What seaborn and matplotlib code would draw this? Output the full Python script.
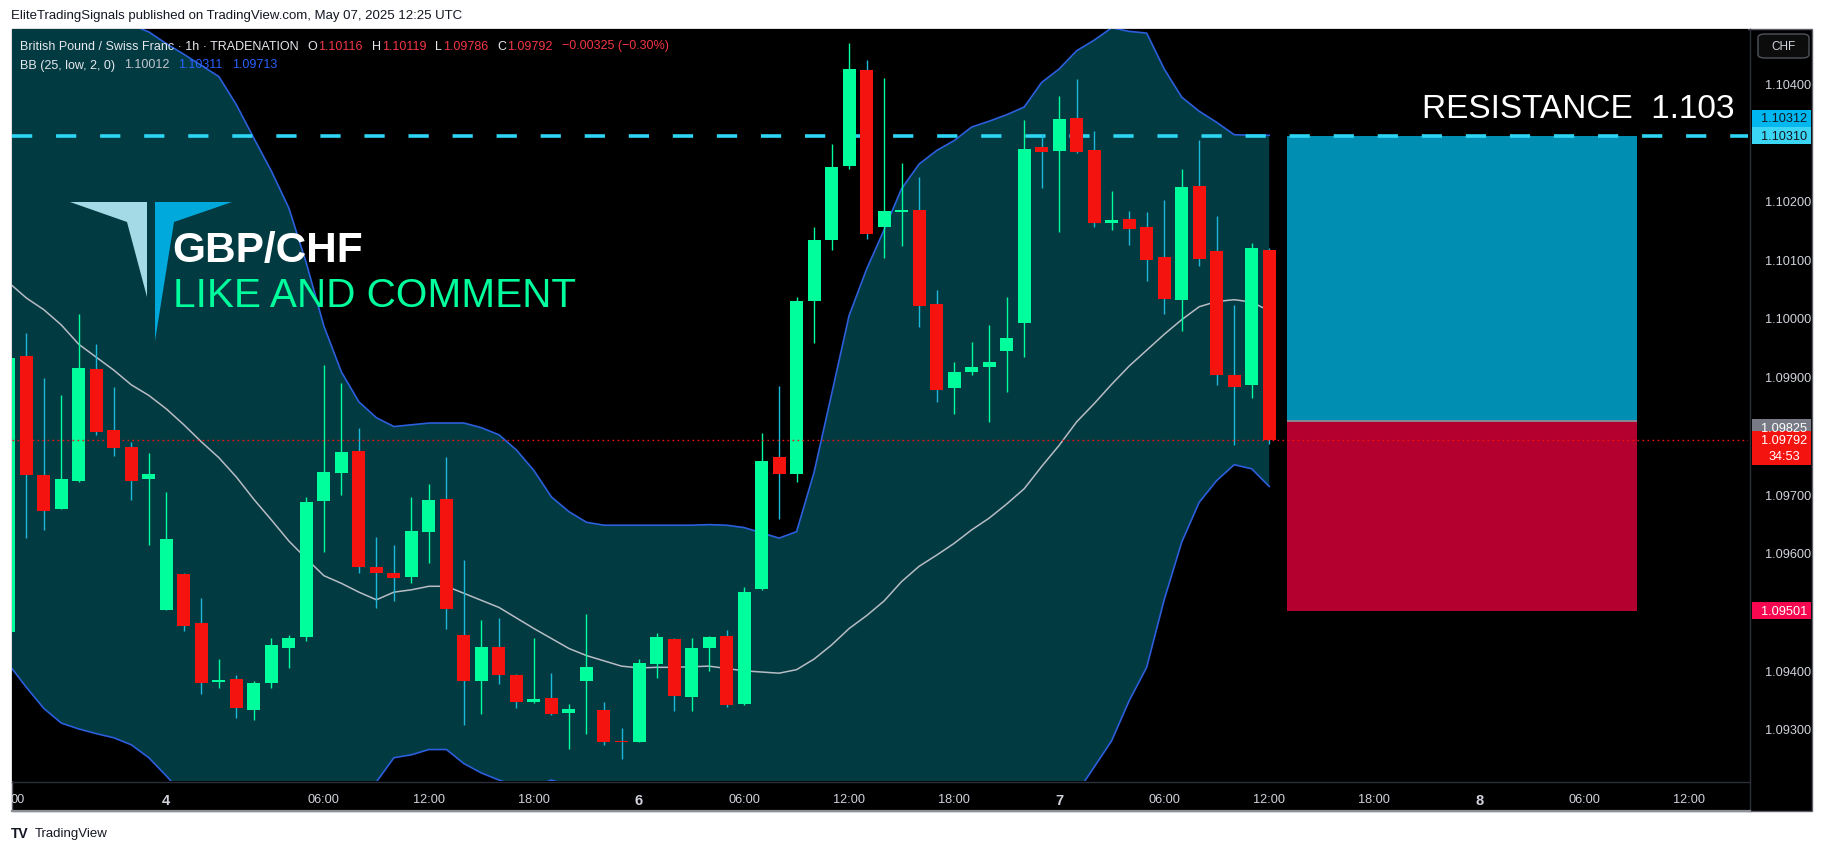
import numpy as np
import pandas as pd
import matplotlib
matplotlib.use("Agg")
import matplotlib.pyplot as plt
import seaborn as sns
from matplotlib.patches import Rectangle, Polygon, FancyBboxPatch
from matplotlib.lines import Line2D

# ---------------- data ----------------
bar_idx = list(range(-36, 37))   # hourly bars, 0 = May 6 00:00
opens = [1.09465, 1.09935, 1.09733, 1.09675, 1.09723, 1.09913, 1.09809, 1.09780, 1.09725,
         1.09503, 1.09564, 1.09481, 1.09380, 1.09385, 1.09333, 1.09379, 1.09438, 1.09456,
         1.09689, 1.09736, 1.09774, 1.09576, 1.09566, 1.09559, 1.09635, 1.09692, 1.09460,
         1.09382, 1.09440, 1.09392, 1.09346, 1.09353, 1.09328, 1.09382, 1.09332, 1.09280,
         1.09277, 1.09410, 1.09453, 1.09355, 1.09438, 1.09458, 1.09343, 1.09539, 1.09763,
         1.09735, 1.10028, 1.10132, 1.10258, 1.10422, 1.10154, 1.10181, 1.10184, 1.10024,
         1.09881, 1.09908, 1.09917, 1.09944, 1.09992, 1.10291, 1.10285, 1.10341, 1.10286,
         1.10161, 1.10169, 1.10155, 1.10104, 1.10031, 1.10225, 1.10114, 1.09903, 1.09885,
         1.10116]
highs = [1.09940, 1.09974, 1.09898, 1.09869, 1.10007, 1.09956, 1.09882, 1.09789, 1.09770,
         1.09703, 1.09566, 1.09523, 1.09419, 1.09392, 1.09381, 1.09455, 1.09460, 1.09695,
         1.09919, 1.09890, 1.09812, 1.09627, 1.09613, 1.09695, 1.09717, 1.09763, 1.09588,
         1.09486, 1.09489, 1.09394, 1.09455, 1.09395, 1.09343, 1.09496, 1.09346, 1.09301,
         1.09419, 1.09463, 1.09455, 1.09455, 1.09458, 1.09469, 1.09542, 1.09804, 1.09884,
         1.10036, 1.10155, 1.10296, 1.10468, 1.10439, 1.10409, 1.10264, 1.10240, 1.10048,
         1.09925, 1.09959, 1.09988, 1.10036, 1.10337, 1.10313, 1.10378, 1.10407, 1.10318,
         1.10216, 1.10182, 1.10180, 1.10201, 1.10253, 1.10303, 1.10174, 1.10022, 1.10128,
         1.10119]
lows = [1.09450, 1.09625, 1.09639, 1.09675, 1.09720, 1.09800, 1.09765, 1.09690, 1.09614,
        1.09503, 1.09466, 1.09360, 1.09369, 1.09318, 1.09316, 1.09370, 1.09403, 1.09449,
        1.09601, 1.09699, 1.09566, 1.09506, 1.09518, 1.09549, 1.09583, 1.09471, 1.09306,
        1.09326, 1.09377, 1.09335, 1.09344, 1.09323, 1.09266, 1.09292, 1.09272, 1.09249,
        1.09277, 1.09386, 1.09331, 1.09331, 1.09399, 1.09338, 1.09340, 1.09537, 1.09658,
        1.09720, 1.09958, 1.10116, 1.10254, 1.10134, 1.10102, 1.10123, 1.09985, 1.09857,
        1.09837, 1.09903, 1.09823, 1.09874, 1.09934, 1.10222, 1.10147, 1.10281, 1.10155,
        1.10150, 1.10125, 1.10063, 1.10006, 1.09978, 1.10089, 1.09885, 1.09784, 1.09863,
        1.09786]
closes = [1.09932, 1.09733, 1.09672, 1.09726, 1.09915, 1.09806, 1.09779, 1.09723, 1.09734,
          1.09624, 1.09476, 1.09379, 1.09384, 1.09335, 1.09378, 1.09443, 1.09455, 1.09687,
          1.09738, 1.09772, 1.09575, 1.09566, 1.09557, 1.09637, 1.09690, 1.09505, 1.09381,
          1.09440, 1.09392, 1.09346, 1.09351, 1.09326, 1.09334, 1.09406, 1.09278, 1.09277,
          1.09412, 1.09457, 1.09357, 1.09438, 1.09457, 1.09341, 1.09533, 1.09756, 1.09735,
          1.10028, 1.10133, 1.10257, 1.10424, 1.10143, 1.10182, 1.10183, 1.10020, 1.09878,
          1.09908, 1.09916, 1.09925, 1.09966, 1.10288, 1.10283, 1.10339, 1.10283, 1.10162,
          1.10167, 1.10152, 1.10099, 1.10033, 1.10223, 1.10101, 1.09902, 1.09883, 1.10119,
          1.09792]

bb_upper = [1.10710, 1.10697, 1.10693, 1.10666, 1.10610, 1.10574, 1.10537, 1.10499, 1.10487,
            1.10467, 1.10449, 1.10430, 1.10411, 1.10363, 1.10306, 1.10250, 1.10187, 1.10093,
            1.09986, 1.09908, 1.09857, 1.09830, 1.09815, 1.09818, 1.09821, 1.09821, 1.09821,
            1.09813, 1.09801, 1.09775, 1.09740, 1.09695, 1.09670, 1.09652, 1.09647, 1.09647,
            1.09647, 1.09647, 1.09647, 1.09647, 1.09648, 1.09647, 1.09643, 1.09634, 1.09625,
            1.09636, 1.09737, 1.09870, 1.10004, 1.10083, 1.10150, 1.10220, 1.10262, 1.10285,
            1.10302, 1.10325, 1.10335, 1.10346, 1.10359, 1.10401, 1.10424, 1.10455, 1.10473,
            1.10494, 1.10488, 1.10485, 1.10424, 1.10376, 1.10352, 1.10333, 1.10312, 1.10311,
            1.10311]
bb_basis = [1.10060, 1.10034, 1.10014, 1.09988, 1.09955, 1.09933, 1.09911, 1.09886, 1.09868,
            1.09845, 1.09818, 1.09789, 1.09762, 1.09729, 1.09691, 1.09656, 1.09620, 1.09590,
            1.09561, 1.09548, 1.09533, 1.09520, 1.09533, 1.09537, 1.09543, 1.09543, 1.09531,
            1.09519, 1.09507, 1.09489, 1.09471, 1.09454, 1.09437, 1.09425, 1.09416, 1.09407,
            1.09404, 1.09405, 1.09405, 1.09406, 1.09407, 1.09403, 1.09399, 1.09397, 1.09395,
            1.09401, 1.09419, 1.09443, 1.09471, 1.09493, 1.09518, 1.09551, 1.09577, 1.09596,
            1.09616, 1.09639, 1.09659, 1.09683, 1.09709, 1.09747, 1.09783, 1.09823, 1.09854,
            1.09887, 1.09918, 1.09945, 1.09972, 1.09997, 1.10019, 1.10028, 1.10031, 1.10027,
            1.10012]
bb_lower = [1.09410, 1.09371, 1.09335, 1.09310, 1.09300, 1.09292, 1.09285, 1.09273, 1.09251,
            1.09220, 1.09187, 1.09148, 1.09113, 1.09095, 1.09076, 1.09062, 1.09053, 1.09087,
            1.09136, 1.09188, 1.09209, 1.09210, 1.09251, 1.09256, 1.09265, 1.09265, 1.09241,
            1.09225, 1.09213, 1.09203, 1.09202, 1.09213, 1.09204, 1.09198, 1.09185, 1.09167,
            1.09161, 1.09163, 1.09163, 1.09165, 1.09166, 1.09159, 1.09155, 1.09160, 1.09165,
            1.09166, 1.09101, 1.09016, 1.08938, 1.08903, 1.08886, 1.08882, 1.08892, 1.08907,
            1.08930, 1.08953, 1.08983, 1.09020, 1.09059, 1.09093, 1.09142, 1.09191, 1.09235,
            1.09280, 1.09348, 1.09405, 1.09520, 1.09618, 1.09686, 1.09723, 1.09750, 1.09743,
            1.09713]

x_tick_pos = [-35.5, -27, -18, -12, -6, 0, 6, 12, 18, 24, 30, 36, 42, 48, 54, 60]
x_tick_labels = ["00", "4", "06:00", "12:00", "18:00", "6", "06:00", "12:00", "18:00",
                 "7", "06:00", "12:00", "18:00", "8", "06:00", "12:00"]
day_labels = ["4", "6", "7", "8"]
price_ticks = [1.093, 1.094, 1.096, 1.097, 1.099, 1.100, 1.101, 1.102, 1.104]

resistance = 1.10310
entry_price = 1.09825
target_price = 1.10310
stop_price = 1.09501
last_close = 1.09792
pos_start, pos_end = 37, 57

# ---------------- figure ----------------
W, H = 1825, 853
FONT = ["Liberation Sans", "DejaVu Sans"]
plt.rcParams["font.family"] = FONT

fig = plt.figure(figsize=(W / 100, H / 100), dpi=100, facecolor="white")

def fx(x):
    return x / W

def fy(y):
    return 1 - y / H

PL, PR, PT, PB = 11.6, 1748.0, 30.0, 782.0   # plot pane (px)
FR, FB = 1812.0, 812.0                        # outer chart frame

# chart frame background (behind the axes)
fig.patches.append(Rectangle((fx(PL), fy(FB)), (FR - PL) / W, (FB - PT) / H,
                             transform=fig.transFigure, facecolor="black",
                             edgecolor="#5d606b", linewidth=1.0, zorder=-10))

ax = fig.add_axes([fx(PL), fy(PB), (PR - PL) / W, (PB - PT) / H])
ax.set_zorder(1)
ax.set_facecolor("black")
for s in ax.spines.values():
    s.set_visible(False)

YTOP, YBOT = 1.10492, 1.092114
XMIN, XMAX = -35.84, 63.35

t = np.array(bar_idx)
o = np.array(opens); h = np.array(highs); l = np.array(lows); c = np.array(closes)

# Bollinger band fill
ax.fill_between(t, bb_lower, bb_upper, color="#023a42", linewidth=0, zorder=1)

df = pd.DataFrame({"t": bar_idx, "upper": bb_upper, "basis": bb_basis, "lower": bb_lower})
sns.lineplot(data=df, x="t", y="upper", ax=ax, color="#2b5fdc", linewidth=1.2, zorder=2)
sns.lineplot(data=df, x="t", y="lower", ax=ax, color="#2b5fdc", linewidth=1.2, zorder=2)
sns.lineplot(data=df, x="t", y="basis", ax=ax, color="#b8bcc4", linewidth=1.1, zorder=2)

# position tool
ax.fill_between([pos_start, pos_end], entry_price, target_price, color="#008fb3",
                linewidth=0, zorder=2.5)
ax.fill_between([pos_start, pos_end], stop_price, entry_price, color="#b3002f",
                linewidth=0, zorder=2.5)
ax.hlines(entry_price, pos_start, pos_end, color="#8a8d96", linewidth=1.3, zorder=2.6)

# resistance dashed line
ax.axhline(resistance, color="#2ed6f5", linewidth=2.6, dashes=(5.6, 6.6), zorder=3)

# candles
up = c >= o
body_col = np.where(up, "#00ff9c", "#f5130f")
wick_col = np.where(up, "#00ff9c", "#1cb8d8")
body_bot = np.minimum(o, c)
body_h = np.maximum(np.abs(c - o), 0.000025)
ax.vlines(t, l, h, colors=wick_col, linewidth=1.0, zorder=4)
ax.bar(t, body_h, bottom=body_bot, width=0.743, color=body_col, linewidth=0, zorder=5)

# last price dotted line
ax.axhline(last_close, color="#f5130f", linewidth=1.0, linestyle=(0, (1.2, 2.4)), zorder=6)

ax.set_xlim(XMIN, XMAX)
ax.set_ylim(YBOT, YTOP)
ax.set_xlabel("")
ax.set_ylabel("")

ax.set_xticks(x_tick_pos)
ax.set_xticklabels(x_tick_labels)
ax.tick_params(axis="x", length=0, pad=9, colors="#d1d4dc", labelsize=9.2)
for lab in ax.get_xticklabels():
    if lab.get_text() in day_labels:
        lab.set_fontweight("bold")
        lab.set_fontsize(10.5)

ax.yaxis.tick_right()
ax.set_yticks(price_ticks)
ax.set_yticklabels([f"{p:.5f}" for p in price_ticks])
ax.tick_params(axis="y", length=0, pad=12, colors="#d1d4dc", labelsize=9.2)

# separators
fig.lines.append(Line2D([fx(PR + 1.5), fx(PR + 1.5)], [fy(PT), fy(FB)], transform=fig.transFigure,
                        color="#2a2e39", linewidth=1.0, zorder=2))
fig.lines.append(Line2D([fx(PL), fx(PR + 1.5)], [fy(PB + 1), fy(PB + 1)], transform=fig.transFigure,
                        color="#2a2e39", linewidth=1.0, zorder=2))
fig.lines.append(Line2D([fx(PL), fx(PR + 1.5)], [fy(FB), fy(FB)], transform=fig.transFigure,
                        color="#8d8f96", linewidth=1.6, zorder=2))

# ---------------- price tags ----------------
def price_y(p):
    return PT + (YTOP - p) / (YTOP - YBOT) * (PB - PT)

def tag(yc, text, bg, fg, hgt=17.0):
    fig.patches.append(Rectangle((fx(1751.5), fy(yc + hgt / 2)), 59.5 / W, hgt / H,
                                 transform=fig.transFigure, facecolor=bg, edgecolor="none",
                                 zorder=5))
    fig.text(fx(1784.5), fy(yc), text, color=fg, fontsize=9.2, ha="center", va="center",
             zorder=6)

y_res = price_y(target_price)
tag(y_res - 17.5, "1.10312", "#00b8ef", "#131722")
tag(y_res, f"{target_price:.5f}", "#3ad6f4", "#131722")
y_last = price_y(last_close)
tag(y_last - 12.5, f"{entry_price:.5f}", "#787b86", "#ffffff")
fig.patches.append(Rectangle((fx(1751.5), fy(y_last + 25)), 59.5 / W, 34 / H,
                             transform=fig.transFigure, facecolor="#f5130f",
                             edgecolor="none", zorder=5))
fig.text(fx(1784.5), fy(y_last), f"{last_close:.5f}", color="white", fontsize=9.2,
         ha="center", va="center", zorder=6)
fig.text(fx(1784.5), fy(y_last + 16), "34:53", color="white", fontsize=9.2,
         ha="center", va="center", zorder=6)
tag(price_y(stop_price), f"{stop_price:.5f}", "#f7074f", "#ffffff")

# CHF button
fig.patches.append(FancyBboxPatch((fx(1758), fy(59)), 51 / W, 24 / H,
                                  boxstyle="round,pad=0,rounding_size=0.004",
                                  transform=fig.transFigure, facecolor="#0c0c0c",
                                  edgecolor="#50535e", linewidth=1.0, zorder=5))
fig.text(fx(1783.5), fy(47), "CHF", color="#d1d4dc", fontsize=8.5, ha="center",
         va="center", zorder=6)

# ---------------- texts ----------------
fig.text(fx(11), fy(16), "EliteTradingSignals published on TradingView.com, May 07, 2025 12:25 UTC",
         color="#131722", fontsize=9.5, ha="left", va="center")

renderer = fig.canvas.get_renderer()

def draw_seq(x0, y, segs, size):
    x = x0
    for s, col, gap in segs:
        x += gap
        tt = fig.text(fx(x), fy(y), s, color=col, fontsize=size, ha="left", va="center",
                      zorder=7)
        x += tt.get_window_extent(renderer).width

WH, RD, BL, GR = "#e6e8ee", "#f23645", "#2962ff", "#c3c6ce"
draw_seq(20, 46.5, [("British Pound / Swiss Franc \u00b7 1h \u00b7 TRADENATION", WH, 0),
                    ("O", WH, 9), ("1.10116", RD, 1), ("H", WH, 9), ("1.10119", RD, 1),
                    ("L", WH, 9), ("1.09786", RD, 1), ("C", WH, 9), ("1.09792", RD, 1),
                    ("\u22120.00325 (\u22120.30%)", RD, 9)], 9.0)
draw_seq(20, 65.5, [("BB (25, low, 2, 0)", WH, 0), ("1.10012", GR, 9),
                    ("1.10311", BL, 9), ("1.09713", BL, 9)], 9.0)

# logo
def poly(pts, col):
    fig.patches.append(Polygon([(fx(x), fy(y)) for x, y in pts], closed=True,
                               transform=fig.transFigure, facecolor=col, edgecolor="none",
                               zorder=7))

poly([(70, 203), (147, 203), (147, 298), (127, 223)], "#a4d9e6")
poly([(155, 203), (232, 203), (174, 223), (155, 342)], "#00a9dc")

fig.text(fx(172), fy(262), "GBP/CHF", color="white", fontsize=30.5, fontweight="bold",
         ha="left", va="baseline", zorder=8)
fig.text(fx(173), fy(307), "LIKE AND COMMENT", color="#00ff9c", fontsize=29.2,
         ha="left", va="baseline", zorder=8)
fig.text(fx(1734), fy(118), "RESISTANCE  1.103", color="white", fontsize=24,
         ha="right", va="baseline", zorder=8)

# bottom brand
fig.text(fx(11), fy(834), "TV", color="#131722", fontsize=10, fontweight="bold",
         ha="left", va="center")
fig.text(fx(35), fy(834), "TradingView", color="#131722", fontsize=9.5, ha="left",
         va="center")

fig.savefig("out.png", dpi=100, facecolor="white")
